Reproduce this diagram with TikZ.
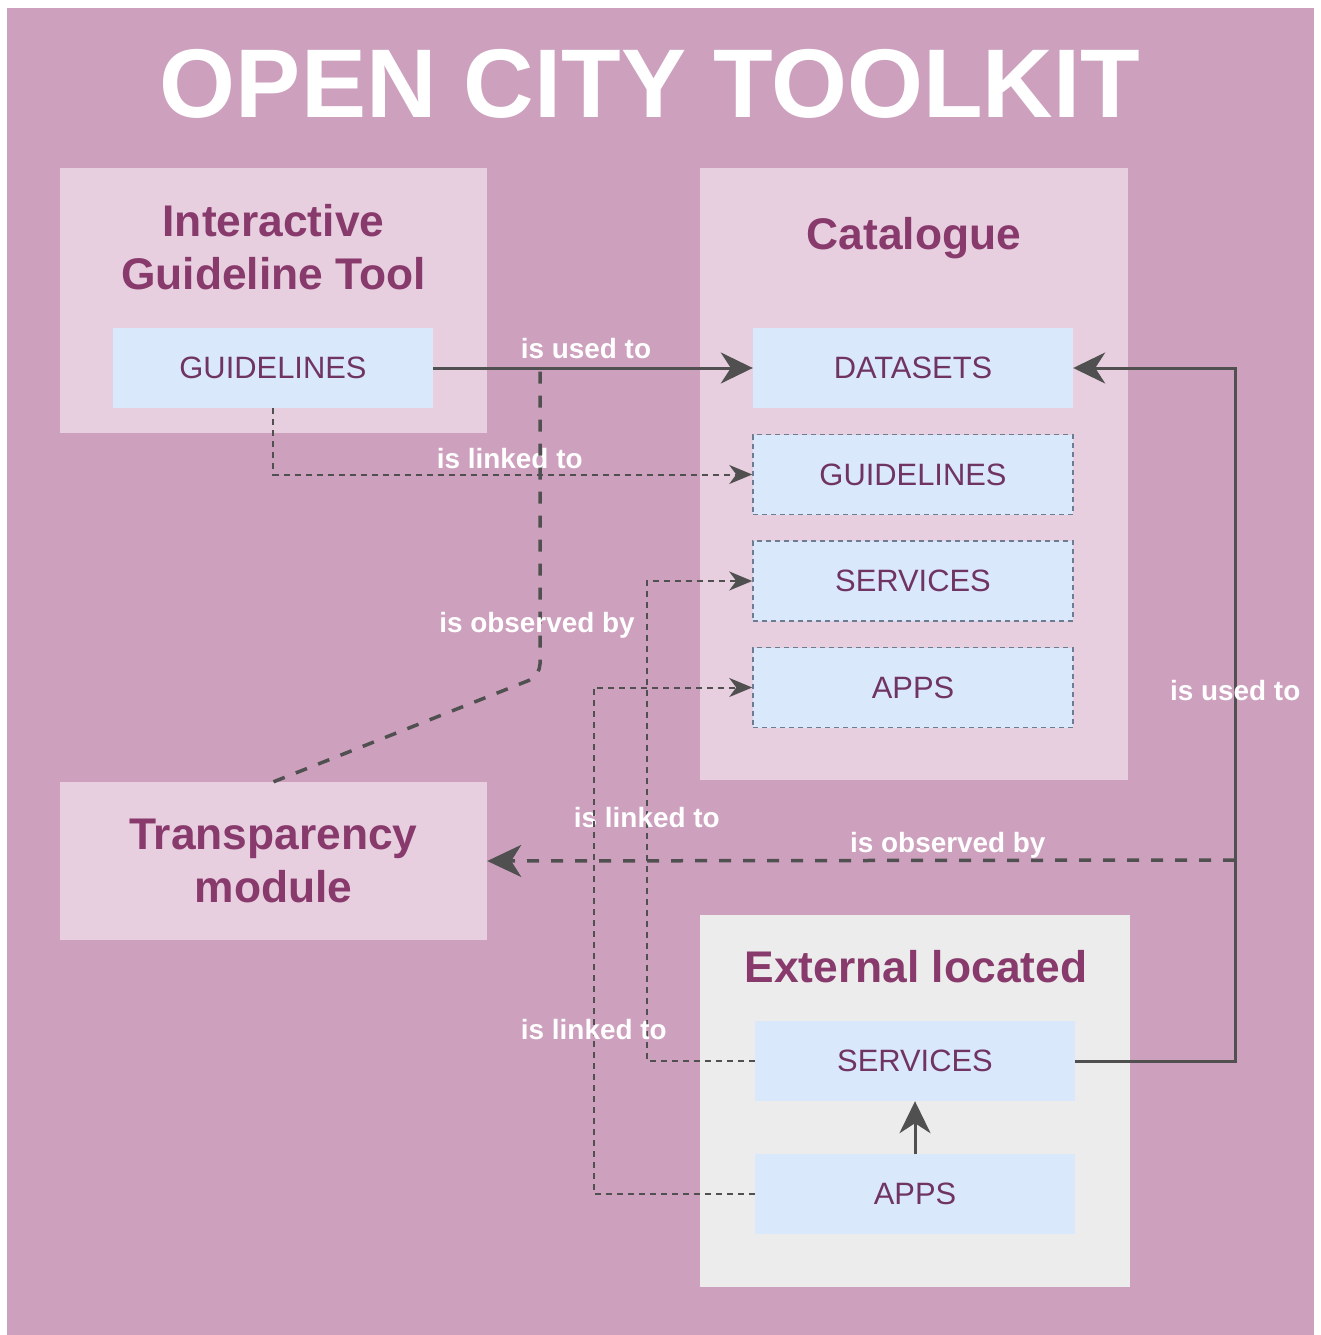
\documentclass[tikz,border=0pt]{standalone}
\usepackage{fontspec}
\setmainfont{Liberation Sans}
\usetikzlibrary{positioning,arrows.meta}

\definecolor{bgpink}{RGB}{205,161,190}
\definecolor{grouppink}{RGB}{231,207,223}
\definecolor{extgray}{RGB}{236,236,236}
\definecolor{itemblue}{RGB}{218,232,252}
\definecolor{headtext}{RGB}{136,58,108}
\definecolor{itemtext}{RGB}{112,52,98}
\definecolor{dashblue}{RGB}{108,124,146}
\definecolor{linegray}{RGB}{80,80,80}

\begin{document}
\begin{tikzpicture}[x=1bp,y=-1bp,node distance=106.5bp,on grid,
    group/.style={fill=grouppink,minimum width=427bp,inner sep=0pt},
    item/.style={fill=itemblue,minimum width=320bp,minimum height=80bp,
      text=itemtext,font=\fontsize{31}{36}\selectfont},
    ditem/.style={item,draw=dashblue,line width=1.5bp,dash pattern=on 5bp off 4bp},
    head/.style={text=headtext,align=center,
      font=\bfseries\fontsize{44.5}{53}\selectfont},
    lbl/.style={text=white,inner sep=0pt,font=\bfseries\fontsize{28}{32}\selectfont},
    used/.style={draw=linegray,line width=3bp,
      -{Stealth[length=32bp,width=31bp,inset=10bp]}},
    linked/.style={draw=linegray,line width=2bp,dash pattern=on 6bp off 5bp,
      -{Stealth[length=23bp,width=19bp,inset=7bp]}},
    observed/.style={draw=linegray,line width=3.5bp,dash pattern=on 12bp off 12bp}]
  \useasboundingbox (0,0) rectangle (1321,1335);
  \fill[bgpink] (7,8) rectangle (1314,1335);

  \node[text=white,anchor=base,font=\bfseries\fontsize{98}{100}\selectfont]
    (title) at (650,118) {OPEN CITY TOOLKIT};

  % groups
  \node[group,minimum height=265bp] (igt) at (273.5,300.5) {};
  \node[head] (igttitle) at (273.5,247) {Interactive\\Guideline Tool};
  \node[group,minimum width=428bp,minimum height=612bp] (cat) at (914,474) {};
  \node[head,anchor=base] (cattitle) at (914,250) {Catalogue};
  \node[group,head,minimum height=158bp] (tm) at (273.5,861) {Transparency\\module};
  \node[group,fill=extgray,minimum width=430bp,minimum height=372bp] (ext) at (915,1101) {};
  \node[head,anchor=base] (exttitle) at (916,982) {External located};

  % items
  \node[item] (gl1) at (273,368) {GUIDELINES};
  \node[item] (ds) at (913,368) {DATASETS};
  \node[ditem] (gl2) [below=of ds] {GUIDELINES};
  \node[ditem] (sv) [below=of gl2] {SERVICES};
  \node[ditem] (ap) [below=of sv] {APPS};
  \node[item] (es) at (915,1061) {SERVICES};
  \node[item] (ea) [below=133bp of es] {APPS};

  \coordinate (obsend) at (540,368);
  \coordinate (obsstart) at (1235,860);

  % connectors
  \draw[used] (gl1) -- node[lbl,anchor=base,yshift=10bp,pos=0.478] {is used to} (ds);
  \draw[linked] (gl1.south) |- node[lbl,anchor=base,yshift=6bp,pos=0.747] {is linked to} (gl2.west);
  \draw[observed,rounded corners=12bp] (tm.north) -- (540,676)
    -- node[lbl,pos=0.166,xshift=-3bp] {is observed by} (obsend);
  \draw[linked] (es.west) -- ++(-108,0)
    |- node[lbl,pos=0.254] {is linked to} (sv.west);
  \draw[linked] (ea.west) -- ++(-161,0)
    |- node[lbl,pos=0.162] {is linked to} (ap.west);
  \draw[used] (es.east) -- ++(160,0)
    |- node[lbl,pos=0.267] {is used to} (ds.east);
  \draw[observed,-{Stealth[length=34bp,width=32bp,inset=10bp]}] (obsstart)
    -- node[lbl,anchor=base,yshift=8bp,pos=0.384] {is observed by} (tm.east);
  \draw[used] (ea) -- (es);
\end{tikzpicture}
\end{document}
